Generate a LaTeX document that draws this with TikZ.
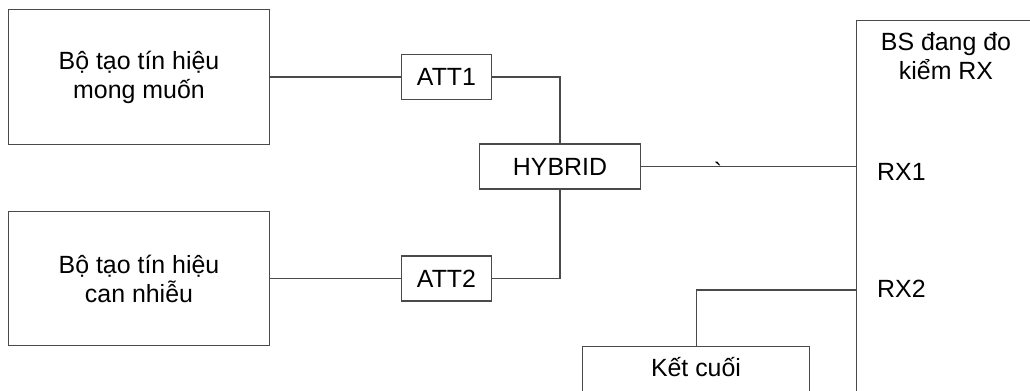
\documentclass[tikz,border=0pt]{standalone}
\usepackage{fontspec}
\newfontfamily\arialf{Liberation Sans}
\definecolor{linegray}{HTML}{4A4A4A}
\tikzset{
  blk/.style={draw=linegray, line width=1.3bp, fill=white, inner sep=0pt, align=center,
    font=\arialf\fontsize{25}{29}\selectfont},
  lbl/.style={inner sep=0pt, align=center, font=\arialf\fontsize{25}{29}\selectfont},
  wire/.style={draw=linegray, line width=1.3bp}
}
\begin{document}
\begin{tikzpicture}[x=1bp,y=-1bp]
\useasboundingbox (0,0) rectangle (1030,390);
% main blocks
\node[blk, minimum width=262, minimum height=135] (gen1) at (139,77) {Bộ tạo tín hiệu\\mong muốn};
\node[blk, minimum width=262, minimum height=135] (gen2) at (139,278.5) {Bộ tạo tín hiệu\\can nhiễu};
\node[blk, minimum width=91, minimum height=45] (att1) at (446.5,77) {ATT1};
\node[blk, minimum width=91, minimum height=45] (att2) at (446.5,278.5) {ATT2};
\node[blk, minimum width=161, minimum height=45] (hyb) at (560,166.5) {HYBRID};
\node[blk, anchor=north west, minimum width=200, minimum height=400] (bs) at (856,20) {};
\node[blk, anchor=north west, minimum width=228, minimum height=60] (kc) at (582,346) {};
% texts
\node[lbl] (bstxt) at (946,56) {BS đang đo\\kiểm RX};
\node[lbl, anchor=base west] (rx1) at (877,180) {RX1};
\node[lbl, anchor=base west] (rx2) at (877,297) {RX2};
\node[lbl, anchor=base] (kctxt) at (696,376) {Kết cuối};
\node[lbl, anchor=base] (tick) at (718,180) {`};
% connectors
\draw[wire] (gen1.east) -- (att1.west);
\draw[wire] (att1.east) -| (hyb.north);
\draw[wire] (gen2.east) -- (att2.west);
\draw[wire] (att2.east) -| (hyb.south);
\draw[wire] (hyb.east) -- (hyb.east -| bs.west);
\coordinate (rx2pt) at (856,290);
\draw[wire] (kc.north) |- (rx2pt);
\end{tikzpicture}
\end{document}
